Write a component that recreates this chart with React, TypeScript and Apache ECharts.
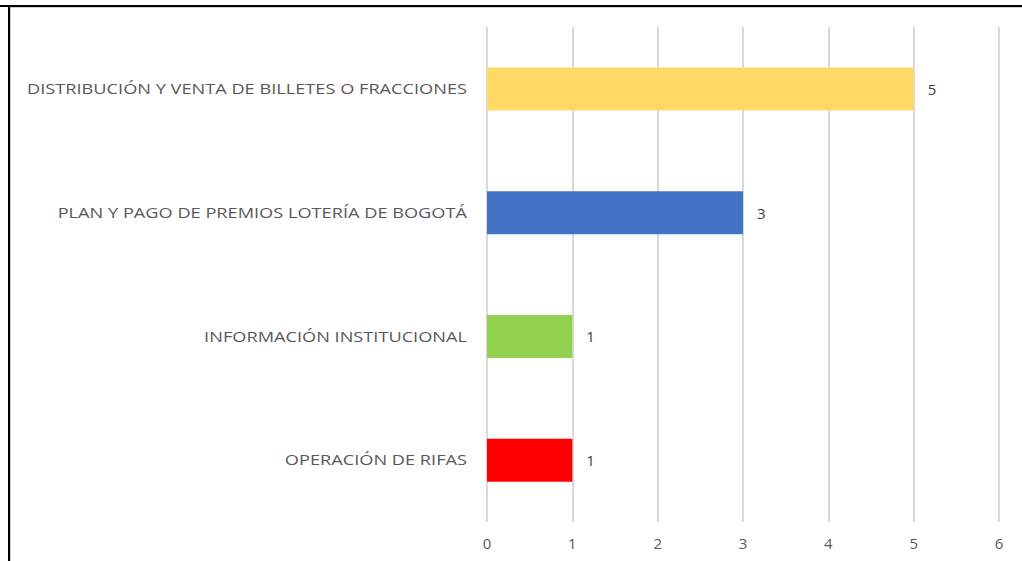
import React, { useEffect, useRef } from "react";
import * as echarts from "echarts";

const categories = [
  "OPERACIÓN DE RIFAS",
  "INFORMACIÓN INSTITUCIONAL",
  "PLAN Y PAGO DE PREMIOS LOTERÍA DE BOGOTÁ",
  "DISTRIBUCIÓN Y VENTA DE BILLETES O FRACCIONES",
];
const values = [1, 1, 3, 5];
const colors = ["#FF0000", "#92D050", "#4472C4", "#FFD966"];
const ticks = [0, 1, 2, 3, 4, 5, 6];

export default function App() {
  const ref = useRef<HTMLDivElement>(null);
  useEffect(() => {
    const chart = echarts.init(ref.current!, undefined, { renderer: "svg" });
    const frame = [
      { type: "rect", shape: { x: 0, y: 5, width: 1022, height: 2 }, style: { fill: "#000" } },
      { type: "rect", shape: { x: 8, y: 5, width: 2, height: 556 }, style: { fill: "#000" } },
      { type: "rect", shape: { x: 10, y: 8, width: 1, height: 553 }, style: { fill: "#D0D0D0" } },
      { type: "rect", shape: { x: 10, y: 7, width: 1012, height: 1 }, style: { fill: "#D0D0D0" } },
    ];
    chart.setOption({
      animation: false,
      backgroundColor: "#ffffff",
      textStyle: { fontFamily: "Open Sans" },
      grid: { left: 487, right: 23, top: 27, bottom: 39, containLabel: false },
      xAxis: {
        type: "value",
        min: ticks[0],
        max: ticks[ticks.length - 1],
        interval: 1,
        axisLine: { show: false },
        axisTick: { show: false },
        splitLine: { lineStyle: { color: "#D9D9D9", width: 2 } },
        axisLabel: { color: "#595959", fontSize: 15, margin: 13 },
      },
      yAxis: {
        type: "category",
        data: categories,
        axisLine: { show: false },
        axisTick: { show: false },
        splitLine: { show: false },
        axisLabel: { show: false },
      },
      series: [
        {
          type: "bar",
          data: values.map((v, i) => ({ value: v, itemStyle: { color: colors[i] } })),
          barWidth: 43,
          label: {
            show: true,
            position: "right",
            distance: 14,
            color: "#404040",
            fontSize: 15,
          },
        },
      ],
      graphic: frame,
    });
    const labelX = (chart.convertToPixel({ xAxisIndex: 0 }, 0) as number) - 20;
    const labels = categories.map((c) => ({
      type: "text",
      x: labelX,
      y: chart.convertToPixel({ yAxisIndex: 0 }, c) as number,
      scaleX: 1.3,
      style: {
        text: c,
        x: 0,
        y: 0,
        align: "right",
        verticalAlign: "middle",
        fontFamily: "Open Sans",
        fontSize: 14,
        fill: "#595959",
      },
    }));
    chart.setOption({ graphic: [...frame, ...labels] });
    return () => chart.dispose();
  }, []);
  return (
    <div
      ref={ref}
      style={{ position: "fixed", left: 0, top: 0, width: 1022, height: 561 }}
    />
  );
}
